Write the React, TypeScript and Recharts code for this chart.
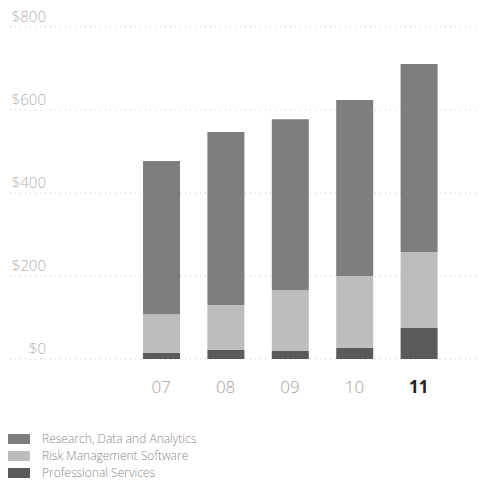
import React from 'react';
import { BarChart, Bar, XAxis, YAxis, CartesianGrid } from 'recharts';

const years = ['07', '08', '09', '10', '11'];
const research = [369, 417, 412, 424, 453];
const riskSoftware = [93, 108, 147, 173, 183];
const professional = [15, 22, 19, 27, 75];
const yTicks = [0, 200, 400, 600, 800];

const seriesNames = ['Research, Data and Analytics', 'Risk Management Software', 'Professional Services'];
const seriesColors = ['#7e7e7e', '#bdbdbd', '#5a5a5a'];

const data = years.map((y, i) => ({
  year: y,
  research: research[i],
  risk: riskSoftware[i],
  prof: professional[i],
}));

const font = '"Open Sans", "DejaVu Sans", sans-serif';

const YTick = (props: any) => {
  const { y, payload } = props;
  return (
    <text x={38} y={y - 5} fill="#b0b0b0" fontSize={15} fontFamily={font} fontWeight={300} textAnchor="end">
      ${payload.value}
    </text>
  );
};

const XTick = (props: any) => {
  const { x, y, payload, index } = props;
  const last = index === years.length - 1;
  return (
    <text
      x={x}
      y={y + 26}
      textAnchor="middle"
      fontSize={17}
      fontFamily={font}
      fontWeight={last ? 700 : 300}
      fill={last ? '#222' : '#a0a0a0'}
    >
      {payload.value}
    </text>
  );
};

export default function App() {
  return (
    <div style={{ width: 487, fontFamily: font, marginTop: -8 }}>
      <BarChart
        width={487}
        height={398}
        data={data}
        margin={{ top: 27, right: 15, bottom: 9, left: 2 }}
        barSize={37}
      >
        <CartesianGrid vertical={false} stroke="#c8c8c8" strokeDasharray="1 4" />
        <XAxis
          dataKey="year"
          axisLine={false}
          tickLine={false}
          tick={<XTick />}
          height={30}
          padding={{ left: 119, right: 29 }}
          interval={0}
        />
        <YAxis
          domain={[0, 800]}
          ticks={yTicks}
          axisLine={false}
          tickLine={false}
          mirror
          tick={<YTick />}
        />
        <Bar dataKey="prof" stackId="a" fill={seriesColors[2]} isAnimationActive={false} />
        <Bar dataKey="risk" stackId="a" fill={seriesColors[1]} isAnimationActive={false} />
        <Bar dataKey="research" stackId="a" fill={seriesColors[0]} isAnimationActive={false} />
      </BarChart>
      <div style={{ marginTop: 32 }}>
        {seriesNames.map((name, i) => (
          <div key={name} style={{ display: 'flex', alignItems: 'center', height: 17 }}>
            <div style={{ width: 22, height: 10, background: seriesColors[i], marginRight: 12 }} />
            <span style={{ fontSize: 12, color: '#8a8a8a', fontWeight: 300 }}>{name}</span>
          </div>
        ))}
      </div>
    </div>
  );
}
